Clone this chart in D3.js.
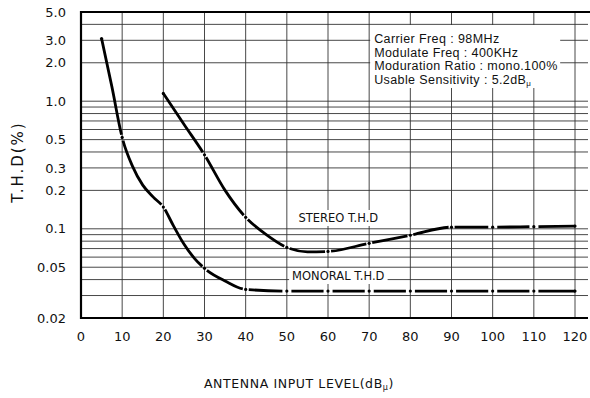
<!DOCTYPE html>
<html>
<head>
<meta charset="utf-8">
<title>T.H.D vs Antenna Input Level</title>
<script src="https://cdn.jsdelivr.net/npm/d3@7"></script>
<style>
    body { margin: 0; background: #fff; }
    text { font-family: "DejaVu Sans", sans-serif; fill: #111; }
    .note text { font-family: "Liberation Sans", Arial, sans-serif; }
</style>
</head>
<body>
<svg id="chart" width="590" height="398"></svg>
<script>
    // ---- data ----
    var xTicks = [0, 10, 20, 30, 40, 50, 60, 70, 80, 90, 100, 110, 120];
    var yTicks = [5, 3, 2, 1, 0.5, 0.3, 0.2, 0.1, 0.05, 0.02];
    var yTickLabels = ["5.0", "3.0", "2.0", "1.0", "0.5", "0.3", "0.2", "0.1", "0.05", "0.02"];
    var yGrid = [4, 3, 2, 1, 0.9, 0.8, 0.7, 0.6, 0.5, 0.4, 0.3, 0.2,
        0.1, 0.09, 0.08, 0.07, 0.06, 0.05, 0.04, 0.03];

    var monoX = [5, 7.5, 10, 12.5, 15, 17.5, 20, 22.5, 25, 27.5, 30, 35, 40,
        50, 60, 70, 80, 90, 100, 110, 120];
    var monoY = [3.1, 1.3, 0.52, 0.31, 0.22, 0.178, 0.148, 0.105, 0.076, 0.059, 0.049, 0.039, 0.0335,
        0.0325, 0.0325, 0.0325, 0.0325, 0.0325, 0.0325, 0.0325, 0.0325];

    var stereoX = [20, 25, 30, 35, 40, 45, 50, 55, 60, 70, 80, 90, 100, 110, 120];
    var stereoY = [1.15, 0.66, 0.38, 0.2, 0.123, 0.09, 0.0715, 0.066, 0.0665, 0.077, 0.089,
        0.103, 0.103, 0.104, 0.105];

    var noteLines = ["Carrier Freq : 98MHz", "Modulate Freq : 400KHz",
        "Moduration Ratio : mono.100%", "Usable Sensitivity : 5.2dB"];

    // ---- layout ----
    var margin = { top: 12, left: 81 },
        width = 494,
        height = 306,
        extraRight = 13; // horizontal lines run past 120

    var svg = d3.select("#chart");
    var g = svg.append("g")
        .attr("transform", "translate(" + margin.left + "," + margin.top + ")");

    var x = d3.scaleLinear().domain([0, 120]).range([0, width]);
    var y = d3.scaleLog().domain([0.02, 5]).range([height, 0]);

    // grid
    g.append("g").selectAll("line.h")
        .data(yGrid)
        .enter().append("line")
        .attr("x1", 0).attr("x2", width + extraRight)
        .attr("y1", function(d) { return y(d); })
        .attr("y2", function(d) { return y(d); })
        .attr("stroke", "#333").attr("stroke-width", 0.9);

    g.append("g").selectAll("line.v")
        .data(xTicks.slice(1))
        .enter().append("line")
        .attr("x1", function(d) { return x(d); })
        .attr("x2", function(d) { return x(d); })
        .attr("y1", 0).attr("y2", height)
        .attr("stroke", "#333").attr("stroke-width", 0.9);

    // frame: top, left, bottom
    g.append("path")
        .attr("d", "M" + (width + extraRight + 2) + ",0H0V" + height + "H" + (width + extraRight))
        .attr("fill", "none").attr("stroke", "#000").attr("stroke-width", 2.2);

    // tick labels
    g.append("g").selectAll("text")
        .data(yTicks)
        .enter().append("text")
        .attr("x", -15)
        .attr("y", function(d) { return y(d); })
        .attr("dy", "0.36em")
        .attr("text-anchor", "end")
        .attr("font-size", "13px")
        .text(function(d, i) { return yTickLabels[i]; });

    g.append("g").selectAll("text")
        .data(xTicks)
        .enter().append("text")
        .attr("x", function(d) { return x(d); })
        .attr("y", height + 18)
        .attr("dy", "0.36em")
        .attr("text-anchor", "middle")
        .attr("font-size", "13px")
        .text(function(d) { return d; });

    // axis titles
    svg.append("text")
        .attr("transform", "translate(23,162) rotate(-90)")
        .attr("text-anchor", "middle")
        .attr("font-size", "15px")
        .attr("letter-spacing", "2px")
        .text("T.H.D(%)");

    var xt = svg.append("text")
        .attr("x", 299).attr("y", 388)
        .attr("text-anchor", "middle")
        .attr("font-size", "12.5px")
        .attr("letter-spacing", "0.6px")
        .text("ANTENNA INPUT LEVEL(dB");
    xt.append("tspan").attr("font-size", "8px").attr("dy", 2).text("\u03bc");
    xt.append("tspan").attr("dy", -2).text(")");

    // conditions note box (white, covers grid)
    var note = g.append("g").attr("class", "note");
    note.append("rect")
        .attr("x", x(70) + 1).attr("y", 13)
        .attr("width", 190).attr("height", 63)
        .attr("fill", "#fff");
    noteLines.forEach(function(s, i) {
        var t = note.append("text")
            .attr("x", x(70) + 5)
            .attr("y", 31 + i * 13.6)
            .attr("font-size", "12.5px")
            .attr("letter-spacing", "0.4px")
            .text(s);
        if (i === noteLines.length - 1) {
            t.append("tspan").attr("font-size", "8px").attr("dy", 2).text("\u03bc");
        }
    });

    // curve labels with white backing
    function curveLabel(cx, cy, s) {
        var t = g.append("text")
            .attr("x", cx).attr("y", cy)
            .attr("text-anchor", "middle")
            .attr("font-size", "11.5px")
            .text(s);
        var b = t.node().getBBox();
        g.insert("rect", function() { return t.node(); })
            .attr("x", b.x - 3).attr("y", b.y - 1)
            .attr("width", b.width + 6).attr("height", b.height + 2)
            .attr("fill", "#fff");
    }
    curveLabel(x(62.5), 210, "STEREO T.H.D");
    curveLabel(x(62.5), 268, "MONORAL T.H.D");

    // curves: broken at each 10-step point with a dot, dashed where flat
    var line = d3.line().curve(d3.curveMonotoneX);

    function lengthAtX(node, px) {
        var lo = 0, hi = node.getTotalLength();
        for (var i = 0; i < 30; i++) {
            var mid = (lo + hi) / 2;
            if (node.getPointAtLength(mid).x < px) lo = mid; else hi = mid;
        }
        return (lo + hi) / 2;
    }

    function drawSeries(xs, ys) {
        var pts = xs.map(function(d, i) { return [x(d), y(ys[i])]; });
        var path = g.append("path")
            .attr("d", line(pts))
            .attr("fill", "none")
            .attr("stroke", "#000")
            .attr("stroke-width", 2.8);
        var node = path.node(),
            total = node.getTotalLength();

        var knots = [];
        xs.forEach(function(d, i) {
            if (i === 0 || i === xs.length - 1 || d % 10 === 0) knots.push(i);
        });

        var dash = [], pos = 0;
        knots.forEach(function(k, j) {
            if (j === 0 || j === knots.length - 1) return;
            var prev = pts[knots[j - 1]], cur = pts[k], next = pts[knots[j + 1]];
            var flat = Math.abs(cur[1] - prev[1]) < 3 && Math.abs(next[1] - cur[1]) < 3;
            var gap = flat ? 9 : 6;
            var L = lengthAtX(node, cur[0]);
            dash.push(L - gap / 2 - pos, gap);
            pos = L + gap / 2;
        });
        dash.push(total - pos, 0);
        path.attr("stroke-dasharray", dash.join(","));

        g.append("g").selectAll("circle")
            .data(knots)
            .enter().append("circle")
            .attr("cx", function(k) { return pts[k][0]; })
            .attr("cy", function(k) { return pts[k][1]; })
            .attr("r", 1.6)
            .attr("fill", "#000");
    }

    drawSeries(monoX, monoY);
    drawSeries(stereoX, stereoY);
</script>
</body>
</html>
